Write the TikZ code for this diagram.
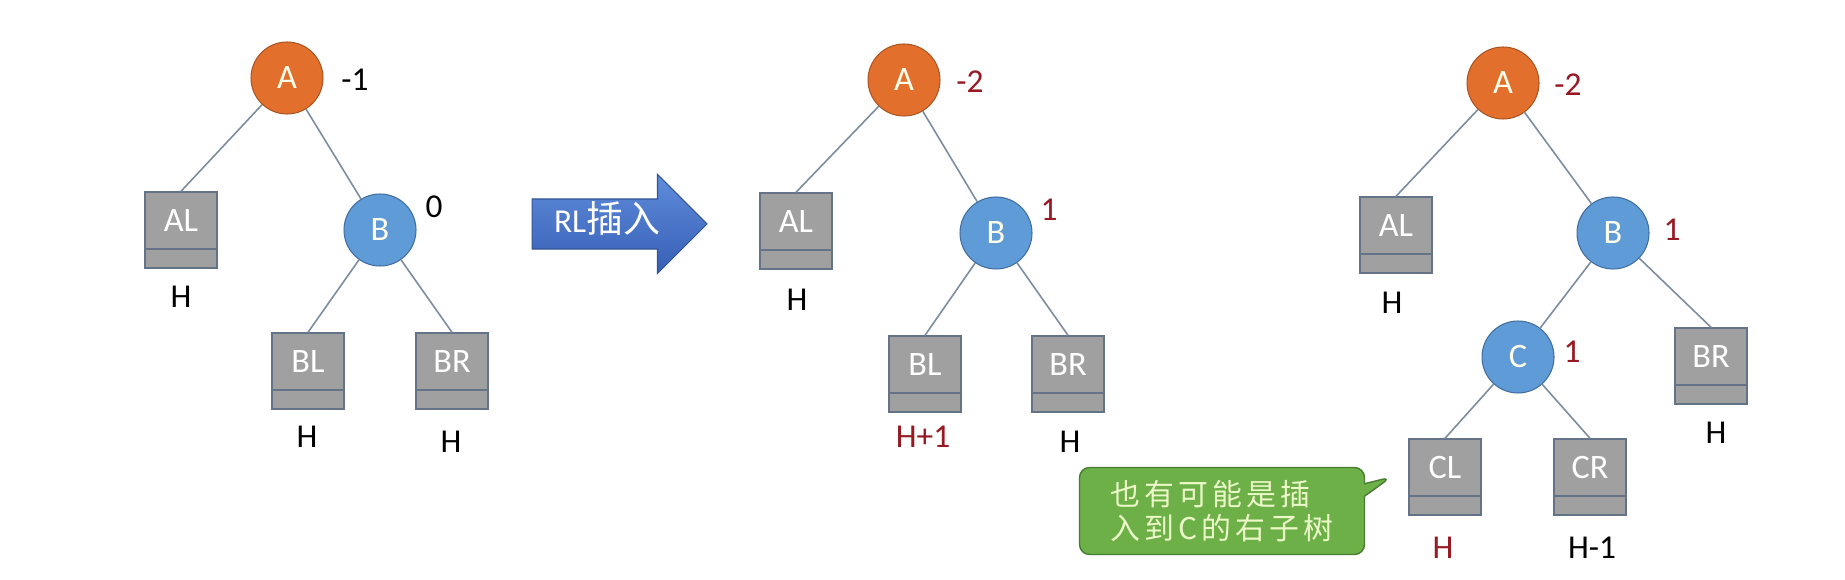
\documentclass[tikz,border=0pt]{standalone}
\usepackage{fontspec}
\setmainfont{Carlito}
\newfontfamily\cjk{Noto Sans CJK SC}
\newfontfamily\cjkwide[LetterSpace=14]{Noto Sans CJK SC}
\usetikzlibrary{shapes.geometric, shapes.arrows, shapes.callouts, calc}
\definecolor{cOrange}{RGB}{226,112,44}
\definecolor{cOrangeLine}{RGB}{170,85,35}
\definecolor{cBlue}{RGB}{95,155,215}
\definecolor{cBlueLine}{RGB}{65,110,160}
\definecolor{cBox}{RGB}{160,160,160}
\definecolor{cBoxLine}{RGB}{100,115,135}
\definecolor{cEdge}{RGB}{125,140,160}
\definecolor{cRed}{RGB}{150,25,35}
\definecolor{cArrowTop}{RGB}{95,140,220}
\definecolor{cArrowBot}{RGB}{55,95,180}
\definecolor{cArrowLine}{RGB}{50,85,150}
\definecolor{cNote}{RGB}{110,176,72}
\definecolor{cNoteLine}{RGB}{70,125,50}
\definecolor{cNoteText}{RGB}{235,248,200}
\tikzset{
  treenode/.style={circle, minimum size=1.44cm, inner sep=0pt,
                   line width=0.6pt, text=white!92!yellow,
                   font=\fontsize{19.5}{22}\selectfont},
  anode/.style={treenode, draw=cOrangeLine, fill=cOrange},
  bnode/.style={treenode, draw=cBlueLine, fill=cBlue},
  subtree/.style={rectangle, draw=cBoxLine, fill=cBox, line width=0.8pt,
                  minimum width=1.44cm, inner sep=0pt, text=white,
                  text height=0.8cm, text depth=0.72cm,
                  font=\fontsize{19.5}{22}\selectfont,
                  path picture={\draw[cBoxLine, line width=0.8pt]
                    ([yshift=0.38cm]path picture bounding box.south west) --
                    ([yshift=0.38cm]path picture bounding box.south east);}},
  bal/.style={inner sep=0pt, font=\fontsize{19}{22}\selectfont},
  balred/.style={bal, text=cRed},
  hgt/.style={inner sep=0pt, font=\fontsize{19}{22}\selectfont},
  hgtred/.style={hgt, text=cRed},
  edge/.style={draw=cEdge, line width=0.9pt},
  rlarrow/.style={single arrow, draw=cArrowLine, line width=0.6pt,
                  top color=cArrowTop, bottom color=cArrowBot,
                  minimum height=3.5cm, single arrow head extend=0.49cm,
                  inner xsep=0.2cm, inner ysep=0.18cm,
                  text height=0.48cm, text depth=0.14cm, text=white,
                  font=\fontsize{19}{22}\selectfont},
  note/.style={rectangle callout, rounded corners=0.2cm, draw=cNoteLine,
               line width=0.8pt, fill=cNote, text=cNoteText,
               minimum width=5.7cm, minimum height=1.74cm, align=left,
               font=\cjkwide\fontsize{17}{19.5}\selectfont}
}
\begin{document}
\begin{tikzpicture}[x=0.02cm, y=-0.02cm]
  \useasboundingbox[fill=white] (0,0) rectangle (1845,580);

  % left tree: before insertion
  \node[anode] (A1) at (287,78) {A};
  \node[bnode] (B1) at (380,230) {B};
  \node[subtree] (AL1) at (181,230) {AL};
  \node[subtree] (BL1) at (308,371) {BL};
  \node[subtree] (BR1) at (452,371) {BR};
  \node[bal] (fA1) at (355,80) {-1};
  \node[bal] (fB1) at (434,207) {0};
  \node[hgt] (hAL1) at (181,297) {H};
  \node[hgt] (hBL1) at (307,437) {H};
  \node[hgt] (hBR1) at (451,442) {H};
  \draw[edge] (A1) -- (AL1.north);
  \draw[edge] (A1) -- (B1);
  \draw[edge] (B1) -- (BL1.north);
  \draw[edge] (B1) -- (BR1.north);

  % RL insertion arrow
  \node[rlarrow] (rl) at (607,224) {RL{\cjk\fontsize{21}{22}\selectfont 插入}};

  % middle tree: inserted into BL
  \node[anode] (A2) at (904,80) {A};
  \node[bnode] (B2) at (996,233) {B};
  \node[subtree] (AL2) at (796,231) {AL};
  \node[subtree] (BL2) at (925,374) {BL};
  \node[subtree] (BR2) at (1068,374) {BR};
  \node[balred] (fA2) at (970,82) {-2};
  \node[balred] (fB2) at (1049,210) {1};
  \node[hgt] (hAL2) at (797,300) {H};
  \node[hgtred] (hBL2) at (923,437) {H+1};
  \node[hgt] (hBR2) at (1070,442) {H};
  \draw[edge] (A2) -- (AL2.north);
  \draw[edge] (A2) -- (B2);
  \draw[edge] (B2) -- (BL2.north);
  \draw[edge] (B2) -- (BR2.north);

  % right tree: BL split into C, CL, CR
  \node[anode] (A3) at (1503,83) {A};
  \node[bnode] (B3) at (1613,233) {B};
  \node[bnode] (C3) at (1518,357) {C};
  \node[subtree] (AL3) at (1396,235) {AL};
  \node[subtree] (BR3) at (1711,366) {BR};
  \node[subtree] (CL3) at (1445,477) {CL};
  \node[subtree] (CR3) at (1590,477) {CR};
  \node[balred] (fA3) at (1568,85) {-2};
  \node[balred] (fB3) at (1672,230) {1};
  \node[balred] (fC3) at (1572,352) {1};
  \node[hgt] (hAL3) at (1392,303) {H};
  \node[hgt] (hBR3) at (1716,433) {H};
  \node[hgtred] (hCL3) at (1443,548) {H};
  \node[hgt] (hCR3) at (1592,548) {H-1};
  \draw[edge] (A3) -- (AL3.north);
  \draw[edge] (A3) -- (B3);
  \draw[edge] (B3) -- (C3);
  \draw[edge] (B3) -- (BR3.north);
  \draw[edge] (C3) -- (CL3.north);
  \draw[edge] (C3) -- (CR3.north);

  % hint
  \node[note, callout absolute pointer={([xshift=-0.34cm]CL3.west)}] (hint)
    at (1222,511) {也有可能是插\\入到C的右子树};
\end{tikzpicture}
\end{document}
